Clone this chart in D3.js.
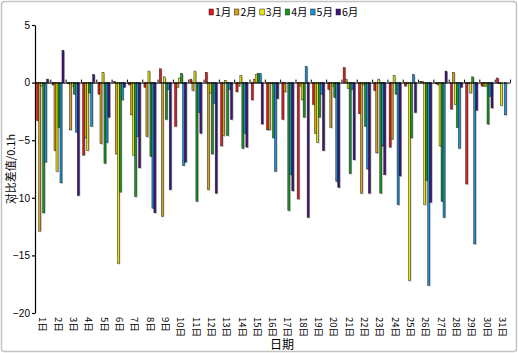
<!DOCTYPE html>
<html>
<head>
<meta charset="utf-8">
<script src="https://cdn.jsdelivr.net/npm/d3@7"></script>
<style>
body { margin: 0; background: #fff; }
text { font-family: "Liberation Sans", "Noto Sans CJK SC", sans-serif; fill: #000; }
.cjk { font-family: "Noto Sans CJK SC", sans-serif; }
</style>
</head>
<body>
<div id="graph"></div>
<script>
// chart data
const days = ["1日","2日","3日","4日","5日","6日","7日","8日","9日","10日","11日","12日","13日","14日","15日","16日",
	"17日","18日","19日","20日","21日","22日","23日","24日","25日","26日","27日","28日","29日","30日","31日"];
const seriesNames = ["1月","2月","3月","4月","5月","6月"];
const jan = [-3.3,-0.2,-0.1,-6.3,-1.0,0.1,-0.2,-0.4,1.2,-3.8,0.3,0.9,-5.5,-0.8,-1.5,-4.1,
	-3.2,-10.1,-1.9,-0.6,1.3,-2.7,-0.7,-5.6,-0.3,0.1,-0.1,-2.3,-8.8,-0.3,0.4];
const feb = [-12.9,-5.9,-4.1,-4.8,-5.3,-6.2,-2.8,-4.7,-11.6,-0.4,-0.7,-9.3,-4.6,-0.3,0.3,-4.1,
	-0.8,-0.3,-4.4,-3.9,0.3,-9.6,-6.1,-4.9,-0.1,0.1,-0.2,0.9,-0.1,-0.3,-0.1];
const mar = [-0.3,-7.7,-0.3,-5.9,0.9,-15.7,-6.3,1.0,0.5,0.4,1.0,-0.9,0.2,0.6,0.7,-0.1,
	0,-1.5,-5.2,-0.3,-0.5,-0.2,0.3,0.6,-17.2,-10.6,-5.5,-1.9,-0.9,-0.3,-2.0];
const apr = [-11.3,-3.9,-1.0,-0.9,-7.0,-9.5,-9.9,-6.4,-3.2,0.8,-10.3,-6.2,-4.6,-5.7,0.8,-4.8,
	-11.1,-3.0,-3.0,-1.3,-7.9,-3.8,-9.6,-1.0,-4.8,-8.5,-10.3,-3.9,0.5,-3.6,0];
const may = [-6.9,-8.7,-4.3,-3.8,-5.2,-1.5,-4.7,-10.9,-0.6,-7.2,-2.6,-1.8,-0.6,-4.4,0.8,-7.7,
	-8.0,1.4,-1.0,-8.6,-0.6,-7.5,-5.5,-10.6,0.7,-17.6,-11.7,-5.7,-14.0,-1.2,-2.8];
const jun = [0.3,2.8,-9.8,0.7,-3.0,-0.4,-7.4,-11.3,-9.3,-6.9,-4.4,-9.6,-3.2,-5.6,-3.6,-1.4,
	-9.4,-11.7,-5.9,-9.1,-6.7,-9.6,-8.0,-8.1,-2.6,-10.4,1.0,-0.4,-2.4,-2.2,0];
const yTicks = [5,0,-5,-10,-15,-20];

const seriesValues = [jan, feb, mar, apr, may, jun];
const colors = ["#e8141b","#dca012","#e6e600","#119a1e","#1592dc","#3c137f"];

const width = 518, height = 353;
const padding = {top: 25, right: 8, bottom: 40, left: 35};

const graph = d3.select("div#graph")
	.append("svg")
	.attr("width", width)
	.attr("height", height);

// light frame round the chart
graph.append("rect")
	.attr("x", 1.5).attr("y", 1.5)
	.attr("width", width - 3).attr("height", height - 3)
	.attr("rx", 3)
	.attr("fill", "#fff")
	.attr("stroke", "#c4c4c4")
	.attr("stroke-width", 1.5);

const xScale = d3.scaleBand()
	.domain(days)
	.range([padding.left, width - padding.right])
	.paddingInner(0.22)
	.paddingOuter(0.11);

const xSub = d3.scaleBand()
	.domain(d3.range(seriesNames.length))
	.range([0, xScale.bandwidth()]);

const yScale = d3.scaleLinear()
	.domain([-20, 5])
	.range([height - padding.bottom, padding.top]);

// flat list of bars
const bars = [];
days.forEach((d, i) => {
	seriesValues.forEach((vals, s) => bars.push({day: d, s: s, v: vals[i]}));
});

// shadow first, then bars
graph.append("g").selectAll("rect")
	.data(bars)
	.enter().append("rect")
	.attr("x", d => xScale(d.day) + xSub(d.s) + 1)
	.attr("y", d => Math.min(yScale(d.v), yScale(0)) + 1)
	.attr("width", xSub.bandwidth())
	.attr("height", d => Math.abs(yScale(d.v) - yScale(0)))
	.attr("fill", "#b8b8b8");

graph.append("g").selectAll("rect")
	.data(bars)
	.enter().append("rect")
	.attr("x", d => xScale(d.day) + xSub(d.s))
	.attr("y", d => Math.min(yScale(d.v), yScale(0)))
	.attr("width", xSub.bandwidth())
	.attr("height", d => Math.abs(yScale(d.v) - yScale(0)))
	.attr("fill", d => colors[d.s])
	.attr("stroke", "#222")
	.attr("stroke-width", 0.5);

// y axis
const yAxis = d3.axisLeft(yScale)
	.tickValues(yTicks)
	.tickSize(3)
	.tickSizeOuter(0);

graph.append("g")
	.attr("class", "y axis")
	.attr("transform", `translate(${padding.left}, 0)`)
	.call(yAxis)
	.call(g => g.selectAll("text").style("font-size", "10px").attr("x", -5))
	.call(g => g.selectAll("path,line").attr("stroke", "#000").attr("stroke-width", 1.2));

// zero line with category boundary ticks
const xEdge = d3.scaleLinear()
	.domain([0, days.length])
	.range([padding.left, width - padding.right]);

graph.append("g")
	.attr("class", "x axis")
	.attr("transform", `translate(0, ${yScale(0)})`)
	.call(d3.axisTop(xEdge).ticks(days.length).tickValues(d3.range(days.length + 1)).tickSize(3).tickSizeOuter(0).tickFormat(""))
	.call(g => g.selectAll("path,line").attr("stroke", "#000").attr("stroke-width", 1));

// day labels along the bottom, rotated
graph.append("g")
	.attr("class", "x labels")
	.attr("transform", `translate(0, ${height - padding.bottom})`)
	.call(d3.axisBottom(xScale).tickSize(0))
	.call(g => g.select(".domain").remove())
	.selectAll("text")
	.attr("class", "cjk")
	.style("font-size", "9.5px")
	.style("text-anchor", "start")
	.attr("x", 4)
	.attr("y", 0)
	.attr("dy", "0.35em")
	.attr("transform", "rotate(90)");

// axis titles
graph.append("text")
	.attr("class", "cjk")
	.attr("transform", `translate(11, ${(padding.top + height - padding.bottom) / 2}) rotate(-90)`)
	.style("text-anchor", "middle")
	.style("font-size", "11px")
	.attr("dy", "0.35em")
	.text("对比差值/0.1h");

graph.append("text")
	.attr("class", "cjk")
	.attr("x", 282)
	.attr("y", 345)
	.attr("dy", "0.35em")
	.style("text-anchor", "middle")
	.style("font-size", "12px")
	.text("日期");

// legend
const legend = graph.selectAll(".legend")
	.data(seriesNames)
	.enter()
	.append("g")
	.attr("class", "legend")
	.attr("transform", (d, i) => `translate(${209 + 25.4 * i}, 12)`);

legend.append("rect")
	.attr("x", 0)
	.attr("y", -3)
	.attr("width", 4.5)
	.attr("height", 6)
	.attr("fill", (d, i) => colors[i])
	.attr("stroke", "#222")
	.attr("stroke-width", 0.5);

legend.append("text")
	.attr("class", "cjk")
	.attr("x", 6)
	.attr("dy", "0.35em")
	.style("font-size", "10.5px")
	.text(d => d);
</script>
</body>
</html>
